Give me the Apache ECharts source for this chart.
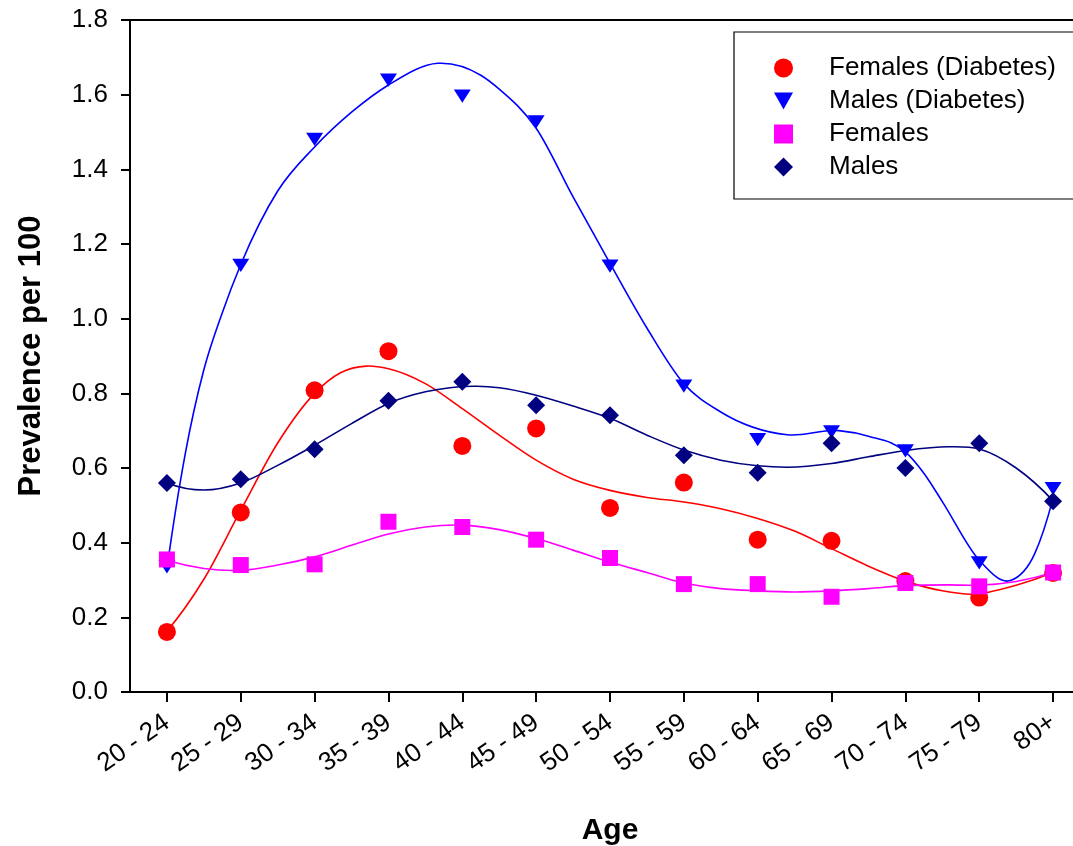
<!DOCTYPE html>
<html>
<head>
<meta charset="utf-8">
<script src="https://cdn.jsdelivr.net/npm/echarts@6/dist/echarts.min.js"></script>
<style>
  html, body { margin: 0; padding: 0; background: #ffffff; }
  #chart { width: 1073px; height: 846px; }
</style>
</head>
<body>
<div id="chart"></div>
<script>
// Age groups on the horizontal axis
const ageGroups = ['20 - 24', '25 - 29', '30 - 34', '35 - 39', '40 - 44', '45 - 49', '50 - 54',
                   '55 - 59', '60 - 64', '65 - 69', '70 - 74', '75 - 79', '80+'];

// Observed prevalence per 100, one value per age group
const femalesDiabetes = [0.161, 0.481, 0.808, 0.913, 0.659, 0.706, 0.493, 0.561, 0.408, 0.405, 0.297, 0.253, 0.319];
const malesDiabetes   = [0.335, 1.143, 1.480, 1.639, 1.596, 1.527, 1.141, 0.819, 0.676, 0.697, 0.646, 0.346, 0.545];
const females         = [0.355, 0.340, 0.342, 0.456, 0.442, 0.408, 0.359, 0.289, 0.289, 0.255, 0.292, 0.283, 0.320];
const males           = [0.560, 0.570, 0.650, 0.780, 0.831, 0.768, 0.741, 0.634, 0.587, 0.666, 0.600, 0.666, 0.511];

// Fitted trend curves: [position along the age axis (0 = first group), prevalence]
const femalesDiabetesTrend = [
  [0, 0.163], [0.5, 0.302], [1, 0.487], [1.5, 0.667], [2, 0.800], [2.35, 0.855], [2.7, 0.873],
  [3, 0.866], [3.5, 0.826], [4, 0.759], [4.5, 0.688], [5, 0.621], [5.5, 0.570], [6, 0.540],
  [6.5, 0.521], [7, 0.509], [7.5, 0.491], [8, 0.465], [8.5, 0.431], [9, 0.384], [9.5, 0.337],
  [10, 0.297], [10.5, 0.271], [10.9, 0.262], [11.5, 0.286], [12, 0.320]
];
const malesDiabetesTrend = [
  [0, 0.330], [0.25, 0.640], [0.5, 0.863], [0.75, 1.016], [1, 1.145], [1.5, 1.342], [2, 1.460],
  [2.5, 1.553], [3, 1.626], [3.67, 1.684], [4.25, 1.652], [4.5, 1.615], [5, 1.510], [5.5, 1.326],
  [6, 1.148], [6.5, 0.975], [7, 0.826], [7.5, 0.750], [8.4, 0.689], [9.1, 0.700], [9.5, 0.685],
  [10, 0.643], [10.25, 0.586], [10.5, 0.510], [11, 0.353], [11.43, 0.299], [11.75, 0.370], [12, 0.520]
];
const femalesTrend = [
  [0, 0.353], [0.5, 0.331], [1, 0.326], [1.5, 0.340], [2, 0.362], [2.5, 0.393], [3, 0.423],
  [3.5, 0.442], [4, 0.447], [4.5, 0.435], [5, 0.411], [5.5, 0.380], [6, 0.348], [6.5, 0.320],
  [7, 0.292], [7.5, 0.277], [8, 0.271], [8.5, 0.268], [9, 0.271], [9.5, 0.277], [10, 0.285],
  [10.6, 0.287], [11, 0.286], [11.5, 0.296], [12, 0.320]
];
const malesTrend = [
  [0, 0.560], [0.5, 0.541], [1, 0.560], [1.5, 0.607], [2, 0.661], [2.5, 0.719], [3, 0.773],
  [3.5, 0.804], [4.2, 0.819], [4.5, 0.815], [5, 0.795], [5.5, 0.766], [6, 0.733], [6.5, 0.688],
  [7, 0.648], [7.5, 0.621], [8, 0.606], [8.4, 0.602], [9, 0.612], [9.5, 0.630], [10, 0.647],
  [10.6, 0.657], [11, 0.651], [11.5, 0.600], [12, 0.512]
];

const FONT = '"Liberation Sans", Arial, Helvetica, sans-serif';
const downTriangle = 'path://M0,0L17,0L8.5,15Z';

const groups = [
  { name: 'Females (Diabetes)', color: '#ff0000', symbol: 'circle',     size: 18,       points: femalesDiabetes, trend: femalesDiabetesTrend },
  { name: 'Males (Diabetes)',   color: '#0000ff', symbol: downTriangle, size: [17, 15], points: malesDiabetes,   trend: malesDiabetesTrend },
  { name: 'Females',            color: '#ff00ff', symbol: 'rect',       size: 16,       points: females,         trend: femalesTrend },
  { name: 'Males',              color: '#000080', symbol: 'diamond',    size: 18,       points: males,           trend: malesTrend }
];

// Smooth curve through pixel points (x strictly increasing), drawn as cubic
// Hermite segments with three-point slope estimates, converted to Bezier form.
function curvePath(pts) {
  const n = pts.length;
  const h = [], d = [];
  for (let i = 0; i < n - 1; i++) {
    h.push(pts[i + 1][0] - pts[i][0]);
    d.push((pts[i + 1][1] - pts[i][1]) / h[i]);
  }
  const m = new Array(n);
  for (let i = 1; i < n - 1; i++) {
    m[i] = (d[i - 1] * h[i] + d[i] * h[i - 1]) / (h[i - 1] + h[i]);
  }
  m[0] = n > 2 ? ((2 * h[0] + h[1]) * d[0] - h[0] * d[1]) / (h[0] + h[1]) : d[0];
  m[n - 1] = n > 2 ? ((2 * h[n - 2] + h[n - 3]) * d[n - 2] - h[n - 2] * d[n - 3]) / (h[n - 2] + h[n - 3]) : d[n - 2];
  let path = 'M' + pts[0][0] + ',' + pts[0][1];
  for (let i = 0; i < n - 1; i++) {
    const t = h[i] / 3;
    path += 'C' + (pts[i][0] + t) + ',' + (pts[i][1] + m[i] * t) + ' ' +
            (pts[i + 1][0] - t) + ',' + (pts[i + 1][1] - m[i + 1] * t) + ' ' +
            pts[i + 1][0] + ',' + pts[i + 1][1];
  }
  return path;
}

const series = [];
// trend curves first, markers drawn on top
groups.forEach(function (g) {
  series.push({
    name: g.name + ' trend',
    type: 'custom',
    coordinateSystem: 'cartesian2d',
    xAxisIndex: 1,
    yAxisIndex: 0,
    data: g.trend,
    silent: true,
    z: 2,
    renderItem: function (params, api) {
      if (params.dataIndex !== 0) return null;
      const pts = g.trend.map(function (p) { return api.coord(p); });
      return {
        type: 'path',
        shape: { pathData: curvePath(pts) },
        style: { stroke: g.color, lineWidth: 1.6, fill: 'none' }
      };
    }
  });
});
groups.forEach(function (g) {
  series.push({
    name: g.name,
    type: 'scatter',
    xAxisIndex: 0,
    data: g.points,
    symbol: g.symbol,
    symbolSize: g.size,
    symbolKeepAspect: true,
    z: 3,
    itemStyle: { color: g.color, opacity: 1 }
  });
});

const chart = echarts.init(document.getElementById('chart'), null, { renderer: 'canvas' });
chart.setOption({
  backgroundColor: '#ffffff',
  animation: false,
  textStyle: { fontFamily: FONT, color: '#000' },
  grid: {
    left: 130, top: 20, right: -17, bottom: 154,
    show: true, borderColor: '#000', borderWidth: 2,
    outerBoundsMode: 'none',
    containLabel: false
  },
  legend: {
    orient: 'vertical',
    left: 734, top: 32,
    padding: [23, 30, 19, 40],
    itemGap: 7,
    itemWidth: 19, itemHeight: 19,
    borderColor: '#000', borderWidth: 1.2,
    selectedMode: false,
    data: groups.map(function (g) { return g.name; }),
    textStyle: { fontFamily: FONT, fontSize: 26, lineHeight: 26, color: '#000', padding: [0, 0, 0, 31] }
  },
  xAxis: [
    {
      type: 'category',
      data: ageGroups,
      boundaryGap: true,
      name: 'Age',
      nameLocation: 'middle',
      nameGap: 124,
      nameTextStyle: { fontFamily: FONT, fontSize: 30, fontWeight: 'bold', color: '#000' },
      axisLine: { show: true, onZero: false, lineStyle: { color: '#000', width: 2 } },
      axisTick: { show: true, alignWithLabel: true, inside: false, length: 10, lineStyle: { color: '#000', width: 2 } },
      axisLabel: { rotate: 35, margin: 28, fontFamily: FONT, fontSize: 26, color: '#000', interval: 0 },
      splitLine: { show: false }
    },
    {
      type: 'value',
      min: -0.5, max: 12.5,
      show: false,
      splitLine: { show: false }
    }
  ],
  yAxis: {
    type: 'value',
    min: 0, max: 1.8, interval: 0.2,
    name: 'Prevalence per 100',
    nameLocation: 'middle',
    nameGap: 83,
    nameTextStyle: { fontFamily: FONT, fontSize: 31, fontWeight: 'bold', color: '#000' },
    axisLine: { show: true, onZero: false, lineStyle: { color: '#000', width: 2 } },
    axisTick: { show: true, inside: false, length: 9, lineStyle: { color: '#000', width: 2 } },
    axisLabel: {
      margin: 22, fontFamily: FONT, fontSize: 26, color: '#000',
      formatter: function (v) { return v.toFixed(1); }
    },
    splitLine: { show: false }
  },
  series: series
});
</script>
</body>
</html>
